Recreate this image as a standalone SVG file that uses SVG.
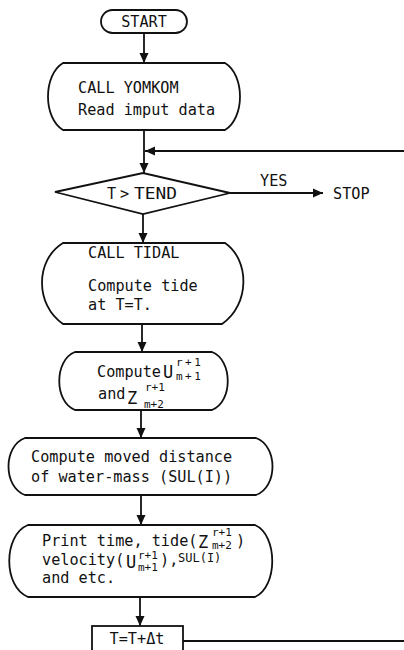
<svg xmlns="http://www.w3.org/2000/svg" width="404" height="650" viewBox="0 0 404 650">
<style>
.s{fill:#fff;stroke:#111;stroke-width:1.8}
.l{fill:none;stroke:#111;stroke-width:1.8}
text{font-family:"DejaVu Sans Mono","Liberation Mono",monospace;font-size:15.2px;fill:#111}
.sm{font-size:11px}
.big{font-size:17px}
.sl{font-size:12px}
</style>
<defs>
<marker id="ah" markerWidth="10" markerHeight="10" viewBox="0 0 10 10" refX="10" refY="5" orient="auto" markerUnits="userSpaceOnUse">
<path d="M0,0.5 L10,5 L0,9.5 Z" fill="#111"/>
</marker>
</defs>
<rect width="404" height="650" fill="#fff"/>
<g id="connectors">
<line class="l" x1="144" y1="33" x2="144" y2="63" marker-end="url(#ah)"/>
<line class="l" x1="144" y1="130" x2="144" y2="173" marker-end="url(#ah)"/>
<line class="l" x1="404" y1="151" x2="145" y2="151" marker-end="url(#ah)"/>
<line class="l" x1="230" y1="193" x2="323" y2="193" marker-end="url(#ah)"/>
<text x="260" y="186">YES</text>
<line class="l" x1="143" y1="214" x2="143" y2="243" marker-end="url(#ah)"/>
<line class="l" x1="142" y1="324" x2="142" y2="352" marker-end="url(#ah)"/>
<line class="l" x1="141" y1="410" x2="141" y2="438" marker-end="url(#ah)"/>
<line class="l" x1="141" y1="495" x2="141" y2="525" marker-end="url(#ah)"/>
<line class="l" x1="140" y1="597" x2="140" y2="626" marker-end="url(#ah)"/>
<line class="l" x1="183" y1="641" x2="404" y2="641"/>
</g>
<g id="start">
<rect class="s" x="101" y="10" width="86" height="23" rx="11.5"/>
<text x="144" y="27" text-anchor="middle">START</text>
</g>
<g id="yomkom">
<path class="s" d="M63,63 L225,63 C245,75 245,118 225,130 L63,130 C43,118 43,75 63,63 Z"/>
<text x="78" y="93">CALL YOMKOM</text>
<text x="78" y="115">Read imput data</text>
</g>
<g id="decision">
<polygon class="s" points="55,192 143,173 230,193 143,214"/>
<text x="107" y="199">T<tspan x="120">&gt;</tspan><tspan x="134" textLength="43" lengthAdjust="spacingAndGlyphs">TEND</tspan></text>
</g>
<g id="stop">
<text x="333" y="199">STOP</text>
</g>
<g id="tidal">
<path class="s" d="M63,243 L225,243 C250,260 250,305 222,324 L63,324 C35,305 35,260 63,243 Z"/>
<text x="88" y="258">CALL TIDAL</text>
<text x="88" y="291">Compute tide</text>
<text x="88" y="310">at T=T.</text>
</g>
<g id="compute-uz">
<path class="s" d="M75,352 L212,352 C233,360 233,402 212,410 L75,410 C54,402 54,360 75,352 Z"/>
<text x="97" y="377">Compute</text>
<text class="big" x="163" y="378">U</text>
<text class="sm" x="176" y="366" letter-spacing="2.5">r+1</text>
<text class="sm" x="176" y="380" letter-spacing="2.5">m+1</text>
<text x="98" y="399">and</text>
<text class="big" x="127" y="404">Z</text>
<text class="sm" x="145" y="391">r+1</text>
<text class="sm" x="144" y="408">m+2</text>
</g>
<g id="moved">
<path class="s" d="M25,438 L256,438 C278,446 278,487 256,495 L25,495 C3,487 3,446 25,438 Z"/>
<text x="31" y="462">Compute moved distance</text>
<text x="31" y="482">of water-mass (SUL(I))</text>
</g>
<g id="print">
<path class="s" d="M28,525 L255,525 C278,535 278,587 255,597 L28,597 C3,587 3,535 28,525 Z"/>
<text x="42" y="546">Print time, tide(</text>
<text class="big" x="198" y="548">Z</text>
<text class="sm" x="212" y="536">r+1</text>
<text class="sm" x="212" y="549">m+2</text>
<text x="236" y="546">)</text>
<text x="42" y="565">velocity(</text>
<text class="big" x="126" y="568">U</text>
<text class="sm" x="138" y="559">r+1</text>
<text class="sm" x="138" y="571">m+1</text>
<text x="160" y="565">),</text>
<text class="sl" x="178" y="562">SUL(I)</text>
<text x="42" y="583">and etc.</text>
</g>
<g id="step">
<rect class="s" x="92" y="626" width="91" height="30"/>
<text x="137" y="644" text-anchor="middle">T=T+Δt</text>
</g>
</svg>
